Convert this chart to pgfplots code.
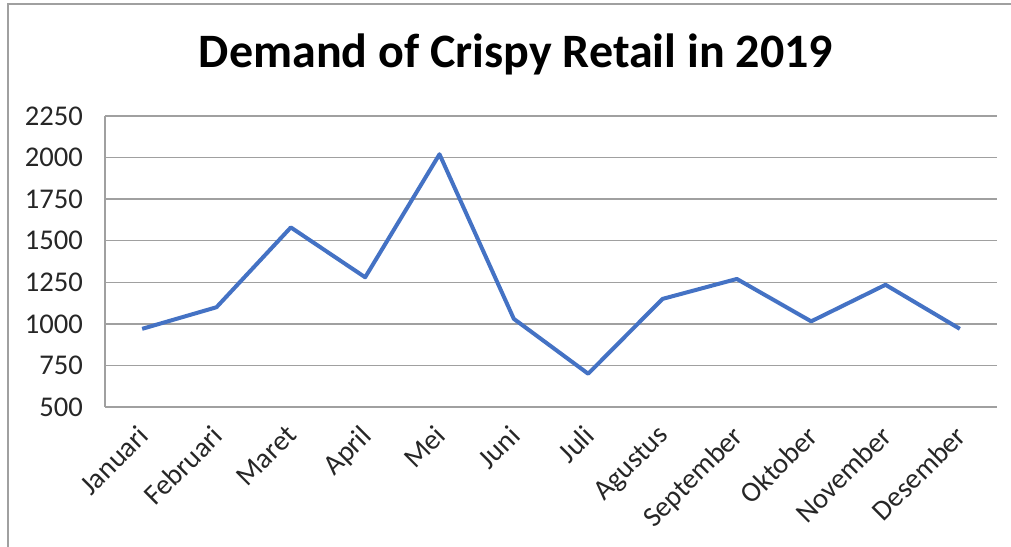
\documentclass[border=0pt]{standalone}
\usepackage{pgfplots}
\pgfplotsset{compat=1.18}
\usepackage{fontspec}
\setmainfont{Carlito}
\definecolor{excelblue}{RGB}{68,114,196}
\definecolor{gridgray}{RGB}{160,160,160}

\begin{document}
\begin{tikzpicture}
\begin{scope}[x=0.5pt,y=0.5pt]
\path[use as bounding box] (0,0) rectangle (1011,546);
% outer frame of the chart area (right and bottom are cut off)
\draw[gridgray, line width=0.6pt] (8,-20) -- (8,542) -- (1040,542);
\node[anchor=base, font=\bfseries\fontsize{24}{28}\selectfont] at (516,478)
  {Demand of Crispy Retail in 2019};
\end{scope}

\begin{axis}[
  at={(52.5pt,69.5pt)}, anchor=south west,
  scale only axis, width=446pt, height=145.5pt,
  xmin=-0.5, xmax=11.5,
  ymin=500, ymax=2250,
  ytick={500,750,...,2250},
  xtick={0,...,11},
  xticklabels={Januari,Februari,Maret,April,Mei,Juni,Juli,Agustus,September,Oktober,November,Desember},
  axis x line*=bottom, axis y line*=left,
  axis line style={gridgray, line width=0.75pt},
  ymajorgrids, grid style={gridgray, line width=0.75pt},
  major tick length=0pt,
  /pgf/number format/assume math mode=true,
  /pgf/number format/set thousands separator={},
  tick label style={font=\fontsize{14.3}{17}\selectfont, text=black!85},
  x tick label style={xshift=-3pt, yshift=-3.5pt, rotate=45, anchor=north east},
  y tick label style={xshift=-7.5pt},
  clip=false,
]
\addplot[excelblue, line width=2pt, line join=round] coordinates {
  (0,970) (1,1100) (2,1580) (3,1280) (4,2020) (5,1030)
  (6,700) (7,1150) (8,1270) (9,1015) (10,1235) (11,970)
};
\end{axis}
\end{tikzpicture}
\end{document}
